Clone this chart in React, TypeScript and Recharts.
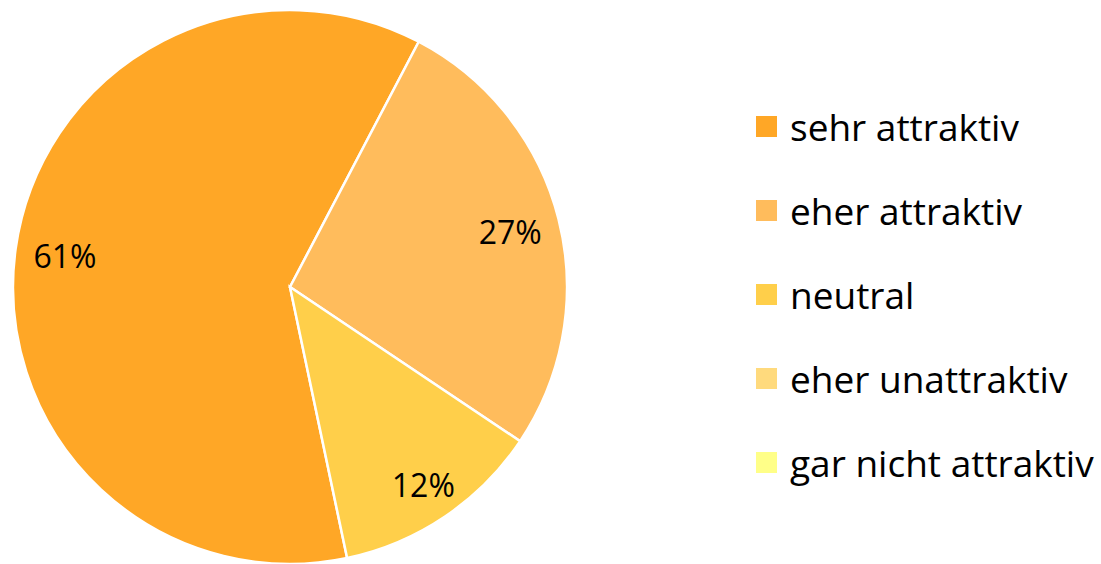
import { PieChart, Pie, Cell, Legend } from 'recharts'

const CATEGORIES = ['sehr attraktiv', 'eher attraktiv', 'neutral', 'eher unattraktiv', 'gar nicht attraktiv']
const SHARES = [61.0, 26.7, 12.3, 0, 0]
const COLORS = ['#FFA726', '#FFBC5C', '#FFCF4A', '#FFDA7D', '#FFFF88']
const LABEL_RADIUS = [0.82, 0.82, 0.86, 0.82, 0.82]

const data = CATEGORIES.map((name, i) => ({ name, value: SHARES[i] }))

const FONT = '"Open Sans", sans-serif'
const RAD = Math.PI / 180

function renderLabel(props: any) {
  const { cx, cy, midAngle, outerRadius, percent, index, value } = props
  if (!value) return null
  const r = outerRadius * LABEL_RADIUS[index]
  const x = cx + r * Math.cos(-midAngle * RAD)
  const y = cy + r * Math.sin(-midAngle * RAD)
  return (
    <text
      x={x}
      y={y}
      fill="#000"
      textAnchor="middle"
      dominantBaseline="central"
      style={{ fontFamily: FONT, fontSize: 32 }}
    >
      {`${Math.round(percent * 100)}%`}
    </text>
  )
}

function renderLegend(props: any) {
  // keep the data order instead of the legend's alphabetical sort
  const payload = [...(props.payload || [])].sort(
    (a: any, b: any) => CATEGORIES.indexOf(a.value) - CATEGORIES.indexOf(b.value)
  )
  return (
    <div style={{ fontFamily: FONT }}>
      {payload.map((entry: any, i: number) => (
        <div key={i} style={{ display: 'flex', alignItems: 'center', height: 84 }}>
          <span
            style={{ width: 21, height: 21, background: entry.color, display: 'inline-block', marginRight: 13 }}
          />
          <span style={{ fontSize: 37, color: '#000', whiteSpace: 'nowrap' }}>{entry.value}</span>
        </div>
      ))}
    </div>
  )
}

export default function App() {
  return (
    <div style={{ position: 'absolute', left: 0, top: 0, width: 1101, height: 564, background: '#fff' }}>
      <PieChart width={1101} height={564} margin={{ top: 0, right: 0, bottom: 0, left: 0 }}>
        <Pie
          data={data}
          dataKey="value"
          nameKey="name"
          cx={290}
          cy={287}
          outerRadius={277}
          startAngle={-78.1}
          endAngle={-438.1}
          stroke="#fff"
          strokeWidth={2.5}
          label={renderLabel}
          labelLine={false}
          isAnimationActive={false}
        >
          {data.map((_, i) => (
            <Cell key={i} fill={COLORS[i]} />
          ))}
        </Pie>
        <Legend
          layout="vertical"
          align="right"
          verticalAlign="top"
          content={renderLegend}
          wrapperStyle={{ left: 756, top: 84, right: 'auto', bottom: 'auto', width: 345 }}
        />
      </PieChart>
    </div>
  )
}
